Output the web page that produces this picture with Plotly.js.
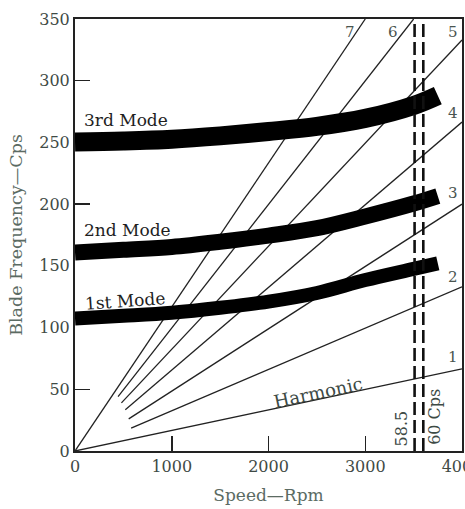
<!DOCTYPE html>
<html>
<head>
<meta charset="utf-8">
<script src="https://cdn.plot.ly/plotly-3.0.1.min.js"></script>
<style>html,body{margin:0;padding:0;background:#fff;}#chart{width:465px;height:509px;}</style>
</head>
<body>
<div id="chart"></div>
<script>
// Mode bands (speed in rpm, blade frequency in cps)
var modeRpm = [0, 500, 1000, 1500, 2000, 2500, 3000, 3500, 3750];
var mode1Cps = [107.4, 109.5, 112, 116, 121, 128, 138.5, 147.5, 152];
var mode2Cps = [160.8, 163, 165.3, 169.5, 174.5, 180.5, 190, 200.5, 206.5];
var mode3Cps = [250.4, 251.2, 252.6, 255.3, 258.8, 263, 269.5, 280, 288];
var modeNames = ["1st Mode", "2nd Mode", "3rd Mode"];

// Harmonic (order) lines: start / end points
var orderNames = ["1", "2", "3", "4", "5", "6", "7"];
var orderStartRpm = [0, 580, 555, 520, 480, 445, 0];
var orderStartCps = [0, 18.5, 26, 33.5, 39, 44, 0];
var orderEndRpm = [4000, 4000, 4000, 4000, 4000, 3500, 3000];
var orderEndCps = [66.5, 133, 200, 266.5, 333, 350, 350];

// Dashed running-speed lines
var speedLineRpm = [3510, 3600];
var speedLineLabels = ["58.5", "60 Cps"];
var freqRange = [0, 350];

// Axes ticks
var xTicks = [0, 1000, 2000, 3000, 4000];
var yTicks = [0, 50, 100, 150, 200, 250, 300, 350];
var yTickMarks = [50, 200, 300];

var serif = "DejaVu Serif, serif";
var traces = [];

for (var i = 0; i < orderNames.length; i++) {
  traces.push({
    x: [orderStartRpm[i], orderEndRpm[i]],
    y: [orderStartCps[i], orderEndCps[i]],
    mode: "lines", type: "scatter",
    line: {color: "#222", width: 1.3},
    hoverinfo: "skip", showlegend: false
  });
}

var modes = [mode1Cps, mode2Cps, mode3Cps];
var modeWidths = [14, 16, 19];
for (var m = 0; m < modes.length; m++) {
  traces.push({
    x: modeRpm, y: modes[m],
    mode: "lines", type: "scatter", line: {color: "#000", width: modeWidths[m], shape: "spline", smoothing: 1},
    name: modeNames[m], hoverinfo: "skip", showlegend: false
  });
}

for (var s = 0; s < speedLineRpm.length; s++) {
  traces.push({
    x: [speedLineRpm[s], speedLineRpm[s]], y: freqRange,
    mode: "lines", type: "scatter",
    line: {color: "#111", width: 2.6, dash: "13px,5px"},
    hoverinfo: "skip", showlegend: false
  });
}

// invisible trace on tick-mark axis
traces.push({x: [0], y: [0], yaxis: "y2", mode: "markers", marker: {opacity: 0}, hoverinfo: "skip", showlegend: false});

var tickFont = {family: serif, size: 16, color: "#3f4a45"};
var annotations = [];
var modeLabelPos = [[70, 121.5, -4], [70, 178.7, 0], [70, 268, 0]];
for (var a = 0; a < modeNames.length; a++) {
  annotations.push({x: modeLabelPos[a][0], y: modeLabelPos[a][1], text: modeNames[a], showarrow: false,
    xanchor: "left", yanchor: "middle", textangle: modeLabelPos[a][2],
    font: {family: serif, size: 17, color: "#1e1e1e"}});
}
var orderLabelPos = [[3912, 76], [3912, 141], [3912, 209], [3902, 274], [3912, 339.5], [3290, 339.5], [2845, 339.5]];
for (var o = 0; o < orderNames.length; o++) {
  annotations.push({x: orderLabelPos[o][0], y: orderLabelPos[o][1], text: orderNames[o], showarrow: false,
    font: {family: serif, size: 15, color: "#4a5550"}});
}
annotations.push({x: 2513, y: 47, text: "Harmonic", showarrow: false, textangle: -12,
  font: {family: serif, size: 18, color: "#3d4a45"}});
annotations.push({x: 3373, y: 18.6, text: speedLineLabels[0], showarrow: false, textangle: -90,
  font: {family: serif, size: 16, color: "#3d4a45"}});
annotations.push({x: 3715, y: 28, text: speedLineLabels[1], showarrow: false, textangle: -90,
  font: {family: serif, size: 16, color: "#3d4a45"}});

var layout = {
  width: 465, height: 509,
  margin: {l: 75, r: 3, t: 19, b: 58},
  paper_bgcolor: "#fff", plot_bgcolor: "#fff",
  showlegend: false,
  xaxis: {
    range: [0, 4000], tickvals: xTicks, ticktext: xTicks.map(String),
    ticks: "inside", ticklen: 15, tickwidth: 1.5, tickcolor: "#222",
    showgrid: false, zeroline: false, showline: true, linecolor: "#222", linewidth: 1.6, mirror: true,
    tickfont: tickFont, layer: "below traces", ticklabeloverflow: "allow",
    title: {text: "Speed\u2014Rpm", font: {family: serif, size: 17, color: "#5b6b63"}, standoff: 14}
  },
  yaxis: {
    range: freqRange, tickvals: yTicks, ticktext: yTicks.map(String),
    ticks: "", showgrid: false, zeroline: false, showline: true, linecolor: "#222", linewidth: 2, mirror: true,
    tickfont: tickFont, layer: "below traces", ticklabeloverflow: "allow",
    title: {text: "Blade Frequency\u2014Cps", font: {family: serif, size: 17.5, color: "#5b6b63"}, standoff: 12}
  },
  yaxis2: {
    overlaying: "y", range: freqRange, tickvals: yTickMarks, showticklabels: false,
    ticks: "inside", ticklen: 15, tickwidth: 1.5, tickcolor: "#222",
    showgrid: false, zeroline: false, showline: false, layer: "below traces"
  },
  annotations: annotations
};

Plotly.newPlot("chart", traces, layout, {staticPlot: true, displayModeBar: false});
</script>
</body>
</html>
